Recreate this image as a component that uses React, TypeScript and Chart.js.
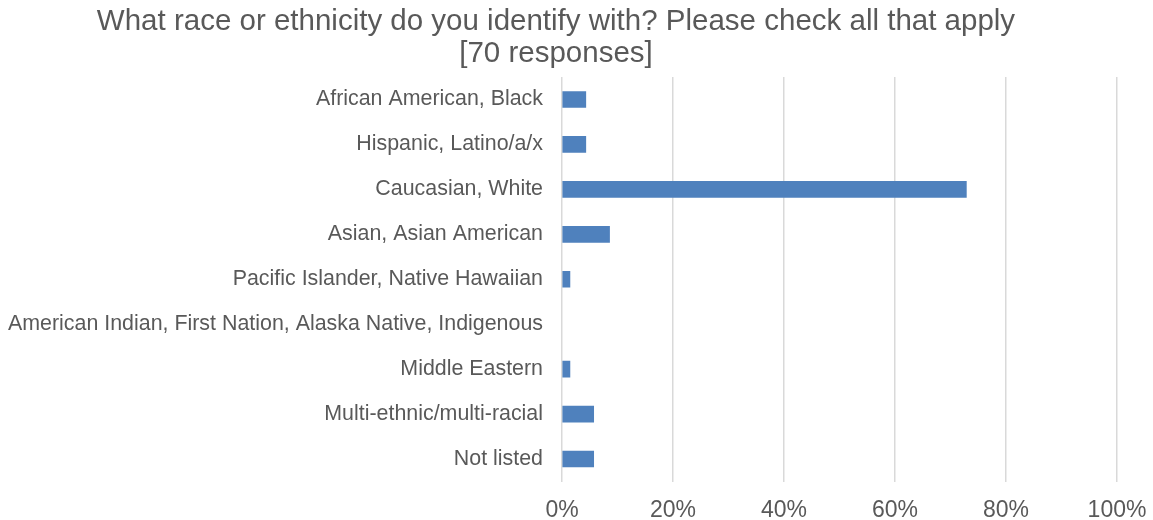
import React, { useEffect, useRef } from "react";
import { Chart, registerables } from "chart.js";

Chart.register(...registerables);

const categories = [
  "African American, Black",
  "Hispanic, Latino/a/x",
  "Caucasian, White",
  "Asian, Asian American",
  "Pacific Islander, Native Hawaiian",
  "American Indian, First Nation, Alaska Native, Indigenous",
  "Middle Eastern",
  "Multi-ethnic/multi-racial",
  "Not listed",
];

const percentValues = [4.29, 4.29, 72.86, 8.57, 1.43, 0, 1.43, 5.71, 5.71];

const titleLines = [
  "What race or ethnicity do you identify with? Please check all that apply",
  "[70 responses]",
];

const FONT = "'Liberation Sans', Arial, sans-serif";
const TEXT_COLOR = "#595959";

export default function App() {
  const canvasRef = useRef<HTMLCanvasElement | null>(null);

  useEffect(() => {
    if (!canvasRef.current) return;
    const chart = new Chart(canvasRef.current, {
      type: "bar",
      data: {
        labels: categories,
        datasets: [
          {
            data: percentValues,
            backgroundColor: (ctx: any) => (ctx.raw === 0 ? "rgba(0,0,0,0)" : "#4f81bd"),
            borderWidth: 0,
            barThickness: 16,
          },
        ],
      },
      options: {
        indexAxis: "y",
        animation: false,
        responsive: false,
        layout: { padding: { top: 77, right: 36, left: 0, bottom: 0 } },
        plugins: {
          legend: { display: false },
          title: { display: false },
          tooltip: { enabled: false },
        },
        scales: {
          x: {
            min: 0,
            max: 100,
            border: { display: false },
            grid: { color: "#d9d9d9", lineWidth: 1.5, drawTicks: false },
            ticks: {
              stepSize: 20,
              padding: 15,
              color: TEXT_COLOR,
              font: { family: FONT, size: 23 },
              maxRotation: 0,
              callback: (v: any) => v + "%",
            },
            afterFit: (scale: any) => {
              scale.height = 38.5;
              scale.paddingRight = 0;
              scale.paddingLeft = 0;
            },
          },
          y: {
            border: { display: false },
            grid: { display: false, drawTicks: false },
            ticks: {
              padding: 19,
              color: TEXT_COLOR,
              font: { family: FONT, size: 21.4 },
              autoSkip: false,
            },
            afterFit: (scale: any) => {
              scale.width = 562;
            },
          },
        },
      },
    });
    return () => chart.destroy();
  }, []);

  return (
    <div style={{ position: "absolute", left: 0, top: 0, width: 1153, height: 520, background: "#fff" }}>
      <canvas ref={canvasRef} width={1153} height={520} style={{ display: "block" }} />
      <div
        style={{
          position: "absolute",
          left: 0,
          top: 4,
          width: 1112,
          textAlign: "center",
          fontFamily: FONT,
          fontSize: 29.5,
          lineHeight: "32px",
          color: TEXT_COLOR,
        }}
      >
        {titleLines.map((t) => (
          <div key={t}>{t}</div>
        ))}
      </div>
    </div>
  );
}
